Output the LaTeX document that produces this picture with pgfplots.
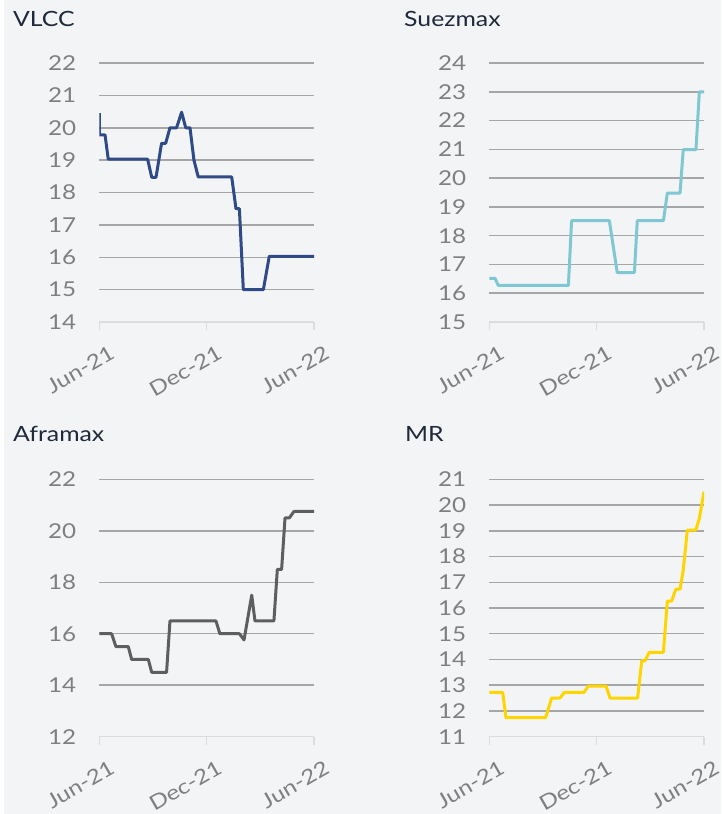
\documentclass[border=0pt]{standalone}
\usepackage{fontspec}
\setmainfont{Lato}[FakeStretch=1.18]
\usepackage{pgfplots}
\pgfplotsset{compat=1.18}
\definecolor{bg}{HTML}{F3F4F6}
\definecolor{gridc}{HTML}{A6A6A6}
\definecolor{axisc}{HTML}{DCDCDC}
\definecolor{tickc}{HTML}{7F7F7F}
\definecolor{titlec}{HTML}{1E293B}
\definecolor{vlcc}{HTML}{2E4A87}
\definecolor{suez}{HTML}{7FC7D3}
\definecolor{afra}{HTML}{5E5E5E}
\definecolor{mr}{HTML}{FFD500}
\pgfplotsset{
  panel/.style={
    scale only axis, width=214.7pt, height=259pt,
    xmin=0, xmax=12, xtick={0,6,12}, xticklabels={Jun-21,Dec-21,Jun-22},
    axis x line*=bottom, axis y line*=left,
    x axis line style={-, draw=axisc, line width=1.5pt},
    y axis line style={draw=none},
    x tick style={draw=axisc, line width=1.5pt},
    y tick style={draw=none},
    tick align=outside, major tick length=8pt,
    ymajorgrids, major grid style={draw=gridc, line width=1.5pt},
    extra y tick style={grid=none},
    ticklabel style={font=\fontsize{20.5}{24}\selectfont, text=tickc},
    yticklabel style={anchor=east, inner sep=0pt, xshift=-15pt},
    xticklabel style={rotate=30, anchor=north east, inner sep=0pt, xshift=1pt, yshift=-17pt},
    /pgf/number format/assume math mode=true,
  },
}
\tikzset{ttl/.style={anchor=base west, inner sep=0pt, font=\fontsize{21}{25}\selectfont, text=titlec}}
\begin{document}
\begin{tikzpicture}
\fill[white] (0,0) rectangle (721pt,-814pt);
\fill[bg] (4pt,0) rectangle (721pt,-814pt);
\useasboundingbox (0,0) rectangle (721pt,-814pt);
\node[ttl] at (13pt,-26.7pt) {VLCC};
\node[ttl] at (404pt,-26.7pt) {Suezmax};
\node[ttl] at (13pt,-441.7pt) {Aframax};
\node[ttl] at (405pt,-441.7pt) {MR};
% VLCC
\begin{axis}[panel, at={(99.3pt,-322pt)}, anchor=south west, height=259pt,
  ymin=14, ymax=22, ytick={15,...,22}, extra y ticks={14}]
\addplot[vlcc, line width=3pt, line join=round] coordinates {
(0,20.45) (0,19.78) (0.32,19.78) (0.5,19.03) (2.70,19.03) (2.93,18.47) (3.17,18.47)
(3.48,19.52) (3.71,19.52) (3.95,20.0) (4.32,20.0) (4.60,20.48) (4.83,20.0) (5.07,20.0)
(5.29,19.0) (5.53,18.48) (7.40,18.48) (7.64,17.5) (7.83,17.5) (8.05,15.0) (9.17,15.0)
(9.50,16.03) (12,16.03)};
\end{axis}
% Suezmax
\begin{axis}[panel, at={(489.3pt,-322pt)}, anchor=south west, height=259pt,
  ymin=15, ymax=24, ytick={16,...,24}, extra y ticks={15}]
\addplot[suez, line width=3pt, line join=round] coordinates {
(0,16.52) (0.32,16.52) (0.50,16.27) (4.42,16.27) (4.60,18.52) (6.71,18.52) (7.15,16.72)
(8.11,16.72) (8.27,18.52) (9.73,18.52) (9.95,19.48) (10.66,19.48) (10.84,20.99)
(11.55,20.99) (11.74,23.0) (12,23.0)};
\end{axis}
% Aframax
\begin{axis}[panel, at={(99.3pt,-736.7pt)}, anchor=south west, height=257.4pt,
  ymin=12, ymax=22, ytick={14,16,...,22}, extra y ticks={12}]
\addplot[afra, line width=3pt, line join=round] coordinates {
(0,16.0) (0.69,16.0) (0.93,15.5) (1.62,15.5) (1.81,15.0) (2.74,15.0) (2.93,14.5)
(3.76,14.5) (3.95,16.5) (6.52,16.5) (6.74,16.0) (7.83,16.0) (8.09,15.76) (8.52,17.5)
(8.70,16.5) (9.76,16.5) (9.95,18.5) (10.19,18.5) (10.38,20.5) (10.62,20.5) (10.88,20.75)
(12,20.75)};
\end{axis}
% MR
\begin{axis}[panel, at={(489.3pt,-736.7pt)}, anchor=south west, height=257.4pt,
  ymin=11, ymax=21, ytick={12,...,21}, extra y ticks={11}]
\addplot[mr, line width=3pt, line join=round] coordinates {
(0,12.72) (0.75,12.72) (0.93,11.74) (3.15,11.74) (3.48,12.5) (3.95,12.5) (4.19,12.72)
(5.29,12.72) (5.53,12.97) (6.52,12.97) (6.75,12.5) (8.29,12.5) (8.52,13.95) (8.70,13.95)
(8.94,14.28) (9.73,14.28) (9.95,16.27) (10.19,16.27) (10.43,16.73) (10.66,16.73)
(10.84,17.48) (11.07,19.03) (11.54,19.03) (11.74,19.48) (12,20.52)};
\end{axis}
\end{tikzpicture}
\end{document}
